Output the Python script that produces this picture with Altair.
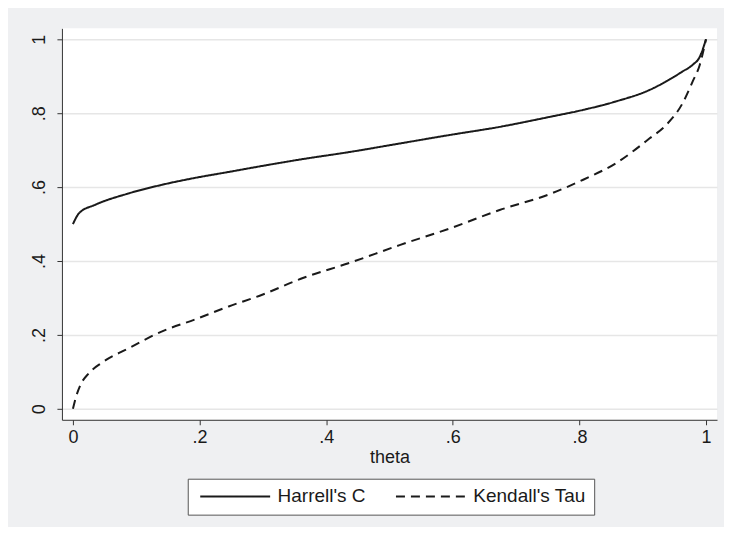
import altair as alt
import pandas as pd

# Harrell's C (solid)
theta_c = [0, 0.01, 0.035, 0.088, 0.14, 0.193, 0.246, 0.298, 0.36, 0.437, 0.516,
           0.595, 0.674, 0.753, 0.806, 0.858, 0.911, 0.937, 0.963, 0.979, 0.990, 1.0]
harrell_c = [0.50, 0.530, 0.552, 0.583, 0.606, 0.625, 0.641, 0.657, 0.675, 0.695, 0.718,
             0.741, 0.763, 0.790, 0.809, 0.832, 0.863, 0.886, 0.913, 0.931, 0.952, 1.0]

# Kendall's Tau (dashed)
theta_k = [0, 0.005, 0.012, 0.025, 0.046, 0.088, 0.14, 0.193, 0.246, 0.298, 0.36, 0.437,
           0.516, 0.595, 0.674, 0.753, 0.806, 0.858, 0.911, 0.937, 0.963, 0.979, 0.990, 1.0]
kendall_tau = [0, 0.033, 0.065, 0.096, 0.125, 0.164, 0.209, 0.242, 0.277, 0.308, 0.352, 0.395,
               0.443, 0.488, 0.538, 0.581, 0.620, 0.665, 0.732, 0.768, 0.827, 0.886, 0.930, 1.0]

series = ["Harrell's C", "Kendall's Tau"]
ticks = [0, 0.2, 0.4, 0.6, 0.8, 1]

df = pd.concat([
    pd.DataFrame({"theta": theta_c, "value": harrell_c, "series": series[0]}),
    pd.DataFrame({"theta": theta_k, "value": kendall_tau, "series": series[1]}),
], ignore_index=True)

font = "Liberation Sans"
ink = "#1a1a1a"
label_expr = "datum.value == 0 ? '0' : datum.value == 1 ? '1' : '.' + format(datum.value * 10, '.0f')"

chart = alt.Chart(df).mark_line(strokeWidth=2, color=ink, interpolate="monotone").encode(
    x=alt.X("theta:Q",
            scale=alt.Scale(domain=[-0.0174, 1.0174], nice=False, zero=False),
            axis=alt.Axis(values=ticks, labelExpr=label_expr, title="theta", grid=False,
                          labelPadding=4, titlePadding=2)),
    y=alt.Y("value:Q",
            scale=alt.Scale(domain=[-0.0297, 1.0297], nice=False, zero=False),
            axis=alt.Axis(values=ticks, labelExpr=label_expr, title=None, grid=True,
                          labelAngle=270, labelAlign="center", labelBaseline="bottom",
                          labelPadding=8)),
    strokeDash=alt.StrokeDash("series:N",
                              scale=alt.Scale(domain=series, range=[[1, 0], [9, 6]]),
                              legend=alt.Legend(title=None, orient="none", legendX=126, legendY=451,
                                                direction="horizontal", symbolType="M-1,0H13",
                                                symbolSize=100, symbolStrokeWidth=2,
                                                symbolStrokeColor=ink, labelFont=font,
                                                labelFontSize=19, labelColor=ink,
                                                strokeColor="#555555", fillColor="white",
                                                padding=8, columnPadding=25, labelOffset=63)),
    detail="series:N",
).properties(
    width=656, height=392,
    background="#eff0f2",
    padding={"left": 54, "top": 20, "right": 7, "bottom": 107},
    autosize=alt.AutoSizeParams(type="none"),
).configure_view(
    fill="white", stroke=None
).configure_axis(
    domainColor="#333333", tickColor="#333333", domainWidth=1, tickWidth=1, tickSize=5,
    labelFont=font, labelFontSize=18, labelColor=ink,
    titleFont=font, titleFontSize=18, titleColor=ink, titleFontWeight="normal",
    gridColor="#e6e6e6", gridWidth=1.5,
)

chart.save("out.html", embed_options={"renderer": "svg", "actions": False})
